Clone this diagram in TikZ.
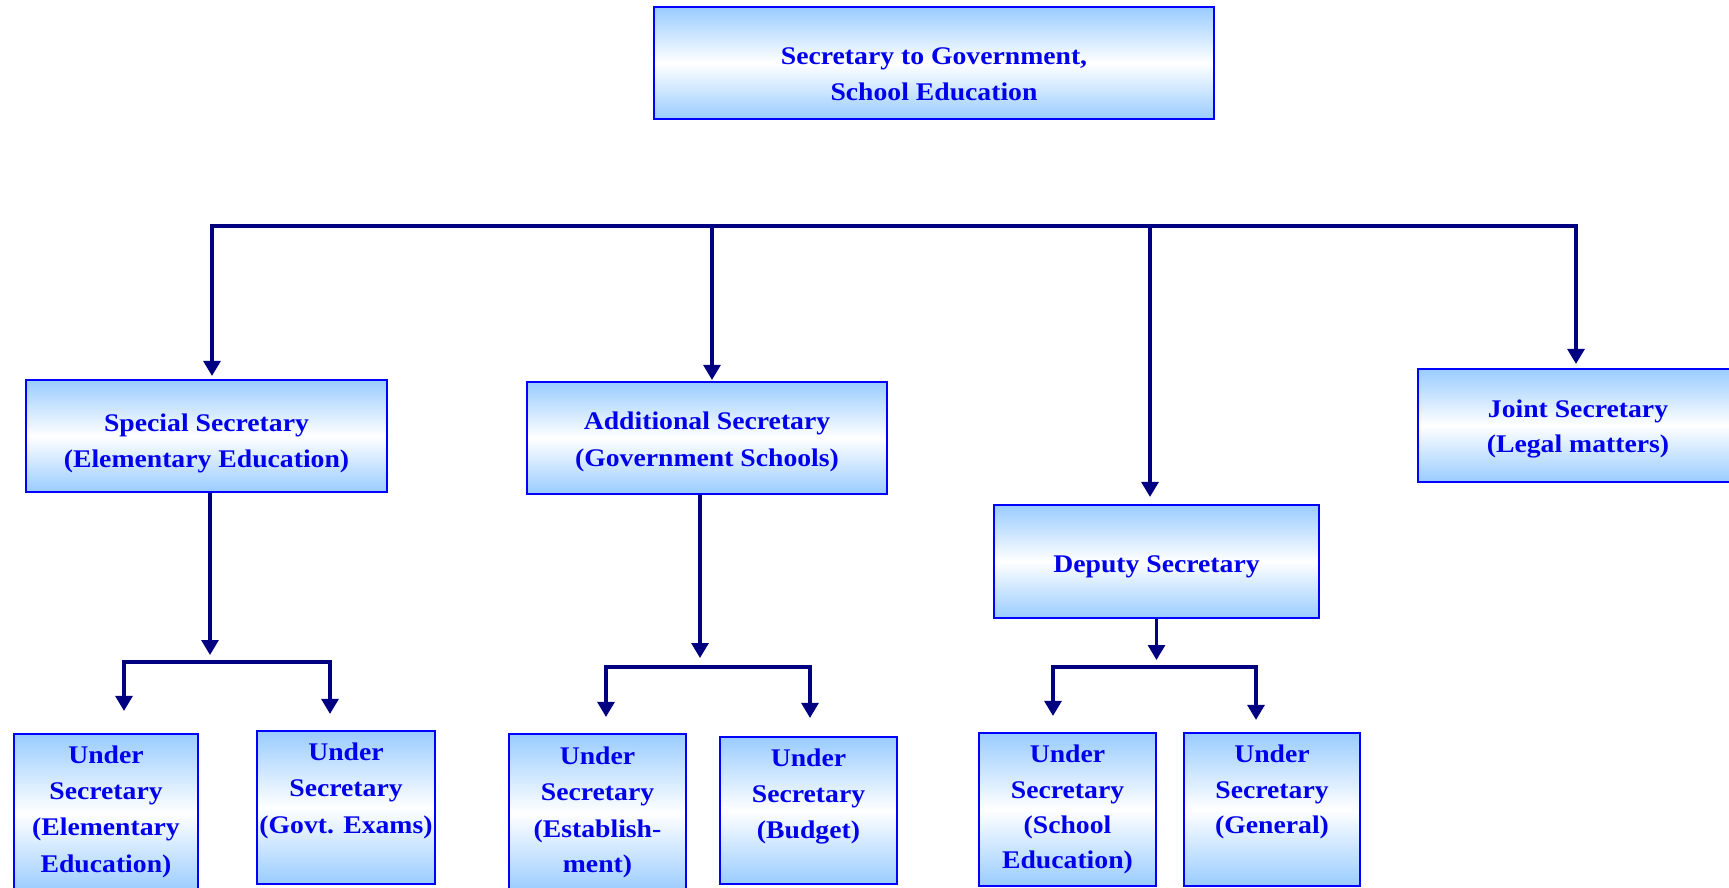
\documentclass[tikz,border=0pt]{standalone}
\usepackage{fontspec}
\setmainfont[FakeStretch=1.09]{Liberation Serif}
\usetikzlibrary{arrows.meta}
\definecolor{lb}{RGB}{153,204,255}
\definecolor{bord}{RGB}{0,0,255}
\definecolor{txtc}{RGB}{0,0,235}
\definecolor{navy}{RGB}{0,0,128}
\begin{document}
\begin{tikzpicture}[x=1bp,y=-1bp,
  box/.style={draw=bord,line width=2.2bp,top color=lb,bottom color=lb,middle color=white,inner sep=0pt},
  txt/.style={text=txtc,font=\bfseries\fontsize{25.5}{36}\selectfont,anchor=base,inner sep=0pt},
  conn/.style={draw=navy,line width=3.1bp,line cap=rect},
  arr/.style={draw=navy,line width=3.1bp,-{Triangle[width=17bp,length=15bp]}}]
\useasboundingbox (0,0) rectangle (1729,887);
\clip (0,0) rectangle (1729,887);

% boxes
\node[box,minimum width=560bp,minimum height=112bp] (top) at (934,63) {};
\node[box,minimum width=361bp,minimum height=112bp] (ss) at (206.5,436) {};
\node[box,minimum width=360bp,minimum height=112bp] (as) at (707,438) {};
\node[box,minimum width=325bp,minimum height=113bp] (ds) at (1156.5,561.5) {};
\node[box,minimum width=320bp,minimum height=113bp] (js) at (1578,425.5) {};
\node[box,minimum width=184bp,minimum height=158bp] (u1) at (106,813) {};
\node[box,minimum width=178bp,minimum height=153bp] (u2) at (346,807.5) {};
\node[box,minimum width=177bp,minimum height=158bp] (u3) at (597.5,813) {};
\node[box,minimum width=177bp,minimum height=147bp] (u4) at (808.5,810.5) {};
\node[box,minimum width=177bp,minimum height=153bp] (u5) at (1067.5,809.5) {};
\node[box,minimum width=176bp,minimum height=153bp] (u6) at (1272,809.5) {};

% texts
\node[txt] (t0a) at (934,64) {Secretary to Government,};
\node[txt] (t0b) at (934,100) {School Education};
\node[txt] (t1a) at (206.5,431) {Special Secretary};
\node[txt] (t1b) at (206.5,467) {(Elementary Education)};
\node[txt] (t2a) at (707,429) {Additional Secretary};
\node[txt] (t2b) at (707,466) {(Government Schools)};
\node[txt] (t3a) at (1156.5,572) {Deputy Secretary};
\node[txt] (t4a) at (1578,417) {Joint Secretary};
\node[txt] (t4b) at (1578,452) {(Legal matters)};

\node[txt] (u1a) at (106,763) {Under};
\node[txt] (u1b) at (106,799) {Secretary};
\node[txt] (u1c) at (106,835) {(Elementary};
\node[txt] (u1d) at (106,872) {Education)};
\node[txt] (u2a) at (346,760) {Under};
\node[txt] (u2b) at (346,796) {Secretary};
\node[txt] (u2c) at (346,833) {(Govt. Exams)};
\node[txt] (u3a) at (597.5,764) {Under};
\node[txt] (u3b) at (597.5,800) {Secretary};
\node[txt] (u3c) at (597.5,837) {(Establish-};
\node[txt] (u3d) at (597.5,872) {ment)};
\node[txt] (u4a) at (808.5,766) {Under};
\node[txt] (u4b) at (808.5,802) {Secretary};
\node[txt] (u4c) at (808.5,838) {(Budget)};
\node[txt] (u5a) at (1067.5,762) {Under};
\node[txt] (u5b) at (1067.5,798) {Secretary};
\node[txt] (u5c) at (1067.5,833) {(School};
\node[txt] (u5d) at (1067.5,868) {Education)};
\node[txt] (u6a) at (1272,762) {Under};
\node[txt] (u6b) at (1272,798) {Secretary};
\node[txt] (u6c) at (1272,833) {(General)};

% main bus
\coordinate (b1) at (212,226);
\coordinate (b2) at (712,226);
\coordinate (b3) at (1150,226);
\coordinate (b4) at (1576,226);
\draw[conn] (b1) -- (b4);
\draw[arr,shorten >=3bp] (b1) -- (b1 |- ss.north);
\draw[arr,shorten >=1bp] (b2) -- (b2 |- as.north);
\draw[arr,shorten >=7bp] (b3) -- (b3 |- ds.north);
\draw[arr,shorten >=4bp] (b4) -- (b4 |- js.north);

% special secretary branch
\coordinate (s0) at (210,655);
\coordinate (s1) at (124,662);
\coordinate (s2) at (330,662);
\draw[arr] (s0 |- ss.south) -- (s0);
\draw[conn] (s1) -- (s2);
\draw[arr,shorten >=22bp] (s1) -- (s1 |- u1.north);
\draw[arr,shorten >=16bp] (s2) -- (s2 |- u2.north);

% additional secretary branch
\coordinate (a0) at (700,658);
\coordinate (a1) at (606,667);
\coordinate (a2) at (810,667);
\draw[arr] (a0 |- as.south) -- (a0);
\draw[conn] (a1) -- (a2);
\draw[arr,shorten >=16bp] (a1) -- (a1 |- u3.north);
\draw[arr,shorten >=18bp] (a2) -- (a2 |- u4.north);

% deputy secretary branch
\coordinate (d0) at (1156.5,660);
\coordinate (d1) at (1053,667);
\coordinate (d2) at (1256,667);
\draw[arr] (d0 |- ds.south) -- (d0);
\draw[conn] (d1) -- (d2);
\draw[arr,shorten >=16bp] (d1) -- (d1 |- u5.north);
\draw[arr,shorten >=12bp] (d2) -- (d2 |- u6.north);
\end{tikzpicture}
\end{document}
